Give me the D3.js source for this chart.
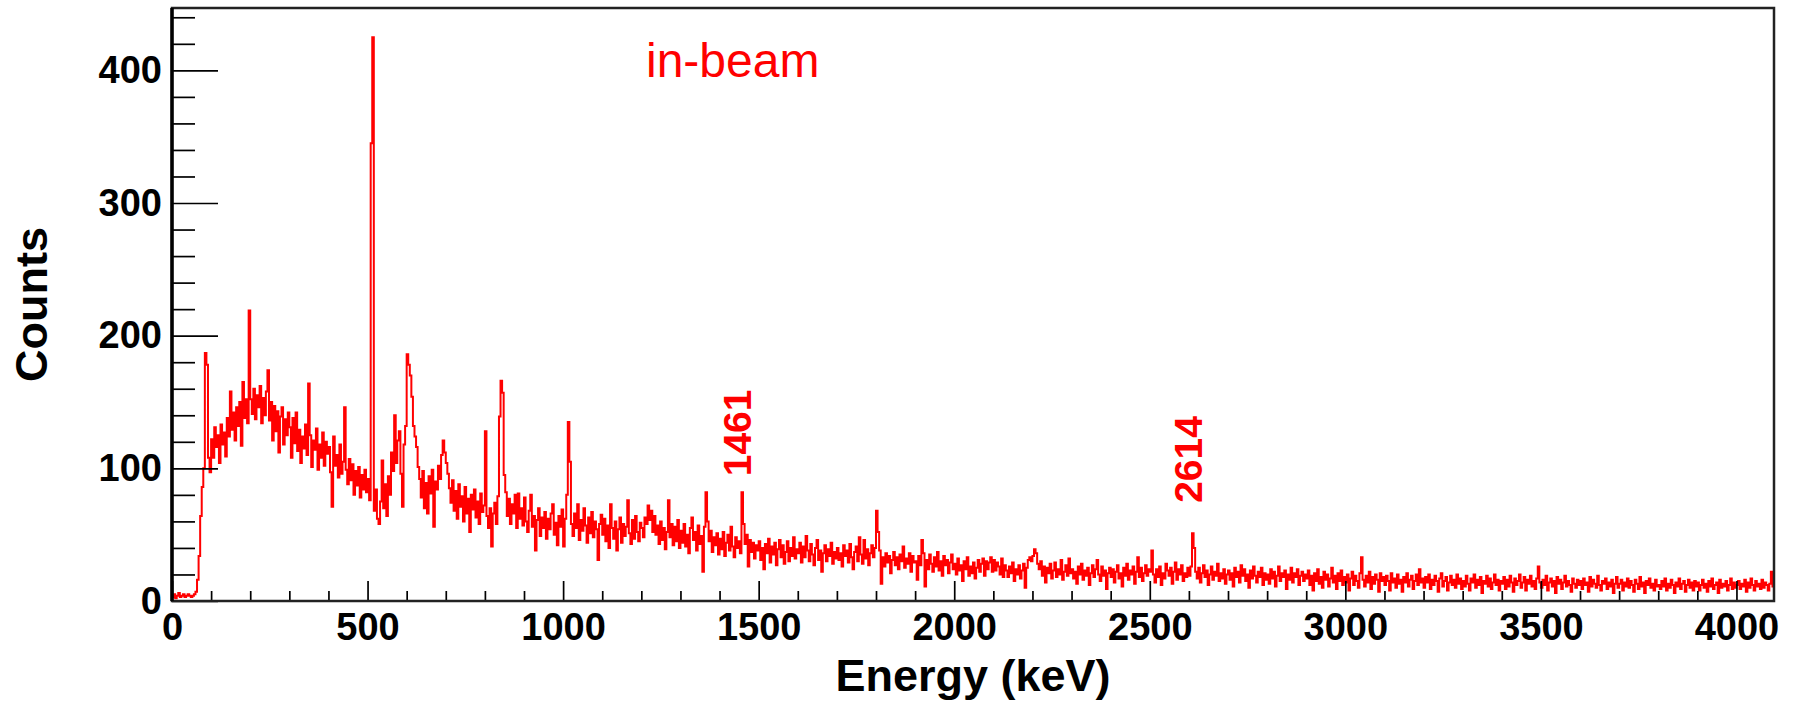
<!DOCTYPE html>
<html>
<head>
<meta charset="utf-8">
<script src="https://cdn.jsdelivr.net/npm/d3@7"></script>
<style>
  body { margin: 0; background: #fff; }
  text { font-family: "Liberation Sans", Arial, Helvetica, sans-serif; }
</style>
</head>
<body>
<svg id="chart" width="1794" height="704"></svg>
<script>
// Gamma spectrum, 4 keV per bin, one row = 100 keV
const binWidth = 4;
const counts = [
  3,5,2,4,6,3,4,5,3,4,5,4,3,4,5,7,16,34,64,86,100,187,178,108,97,            // 0
  122,108,131,116,125,104,133,118,127,109,138,124,158,129,142,121,146,132,150,117,165,138,152,134,219, // 100
  152,141,160,137,155,146,162,134,153,140,158,174,136,150,121,147,128,143,112,139,146,118,137,125,142, // 200
  131,108,138,119,142,113,129,104,124,115,133,110,164,125,101,121,114,130,99,118,108,127,102,120,111,  // 300
  116,97,71,124,102,110,93,118,96,105,146,99,88,107,91,103,80,98,87,101,78,95,84,99,82,               // 400
  92,76,345,425,68,84,62,58,75,106,70,88,64,94,80,112,98,140,104,121,128,96,71,118,132,               // 500
  186,178,170,154,132,124,116,101,92,78,98,70,89,66,94,81,99,56,90,84,102,92,110,121,112,             // 600
  104,96,85,74,91,68,83,62,88,71,79,60,86,66,77,52,80,69,84,63,75,58,81,67,72,                        // 700
  128,64,55,70,41,66,74,58,79,139,166,157,95,82,64,77,58,73,66,80,55,81,62,70,57,                     // 800
  78,60,52,68,80,56,64,38,61,70,49,63,55,67,47,62,54,66,73,50,59,42,64,56,69,                         // 900
  41,62,80,135,105,58,49,66,55,73,46,61,53,70,57,44,63,51,67,48,60,54,31,58,65,                       // 1000
  50,62,45,57,40,73,55,47,60,38,54,63,44,58,49,56,76,51,43,61,47,64,52,45,59,                         // 1100
  55,48,63,58,72,61,68,52,64,50,57,43,60,46,55,39,52,76,48,58,42,56,45,61,40,                         // 1200
  53,44,58,41,50,36,55,63,46,52,38,57,43,49,22,56,82,60,45,53,37,48,42,51,35,                         // 1300
  47,39,52,34,44,50,38,56,41,33,48,40,45,36,82,58,43,50,26,46,37,44,32,42,38,                         // 1400
  45,31,40,24,43,36,47,29,41,35,44,27,39,46,33,42,28,37,45,30,40,34,48,32,39,                         // 1500
  36,44,29,41,33,49,38,30,43,35,27,40,46,31,38,22,36,42,30,39,34,44,28,37,32,                         // 1600
  40,31,36,26,42,34,38,29,43,33,24,37,41,30,48,35,28,46,32,39,27,36,42,33,40,                         // 1700
  68,52,38,13,33,26,36,29,34,21,31,37,27,33,24,35,30,41,25,32,28,36,22,34,29,                         // 1800
  30,16,34,27,46,36,11,31,24,35,28,22,33,26,37,23,30,19,34,27,31,21,29,35,24,                         // 1900
  28,20,32,23,27,15,30,24,33,19,26,21,29,17,25,31,22,28,32,19,30,24,29,33,22,                         // 2000
  31,23,29,26,20,32,18,27,23,18,26,21,29,15,24,20,27,17,23,28,10,25,31,33,30,                         // 2100
  34,39,36,28,24,30,19,26,14,25,21,28,17,23,29,18,24,20,31,16,22,27,19,32,21,                         // 2200
  24,17,22,13,26,20,28,16,23,19,25,12,21,27,18,24,31,20,15,26,19,23,9,21,25,                          // 2300
  18,24,14,22,27,17,21,11,25,19,28,16,23,20,26,13,22,33,18,25,15,21,27,19,24,                         // 2400
  22,38,20,14,24,18,26,12,21,17,28,23,19,25,13,22,29,16,24,20,27,15,21,18,25,                         // 2500
  19,26,51,40,22,17,25,14,21,27,18,23,12,20,26,16,22,19,28,15,21,17,24,13,20,                         // 2600
  23,16,21,11,25,18,22,14,27,19,24,15,20,10,23,17,26,19,14,22,18,25,12,21,16,                         // 2700
  20,13,24,17,22,11,19,26,15,21,18,23,9,20,16,25,14,21,18,24,12,19,22,15,20,                          // 2800
  17,23,12,19,8,21,15,24,13,18,10,22,16,20,11,17,25,14,19,9,21,15,23,12,18,                           // 2900
  14,20,8,17,22,12,19,15,10,21,33,16,11,19,14,22,9,18,13,20,16,7,21,15,18,                            // 3000
  12,19,15,8,21,14,17,10,20,13,16,7,18,14,21,11,16,19,9,15,20,12,24,14,17,                            // 3100
  10,18,14,20,9,16,12,19,15,7,17,21,11,15,18,8,14,19,12,16,10,20,13,17,9,                             // 3200
  15,11,19,13,8,17,14,20,10,16,12,18,6,15,13,19,11,17,9,14,20,12,16,8,15,                             // 3300
  13,18,9,16,11,19,14,7,17,12,15,20,10,14,18,8,16,13,19,11,15,9,17,26,14,                             // 3400
  10,16,12,19,8,14,17,11,15,6,18,13,16,9,14,19,11,15,12,7,17,13,10,16,12,                             // 3500
  15,9,17,12,14,7,18,11,16,13,10,19,12,8,15,13,17,9,14,11,16,6,13,18,10,                              // 3600
  13,16,8,14,11,17,10,15,12,7,16,13,9,18,11,14,6,15,12,17,10,13,8,16,11,                              // 3700
  12,9,15,11,17,8,13,10,16,12,6,14,11,17,9,13,15,7,12,16,10,14,8,15,11,                               // 3800
  14,8,12,16,10,13,7,15,11,17,9,12,14,6,16,10,13,11,15,8,12,17,9,14,10,                               // 3900
  12,15,9,13,11,16,7,14,10,17,12,8,15,11,13,9,16,10,14,12,8,13,22,11                                  // 4000
];

const xMax = 4096;
const yMax = 447;
const xMajorTicks = [0, 500, 1000, 1500, 2000, 2500, 3000, 3500, 4000];
const yMajorTicks = [0, 100, 200, 300, 400];
const peakNames = ['1461', '2614'];
const peakEnergies = [1461, 2614];
const peakLabelCounts = [94, 74];

const margin = { top: 8, right: 20, bottom: 103, left: 172 };
const width = 1794 - margin.left - margin.right;
const height = 704 - margin.top - margin.bottom;

const svg = d3.select('#chart');
const g = svg.append('g').attr('transform', `translate(${margin.left},${margin.top})`);

const x = d3.scaleLinear().domain([0, xMax]).range([0, width]);
const y = d3.scaleLinear().domain([0, yMax]).range([height, 0]);

// histogram as a step line
const points = counts.map((c, i) => [i * binWidth, c]);
points.push([xMax, counts[counts.length - 1]]);

svg.append('defs').append('clipPath').attr('id', 'plotClip')
  .append('rect').attr('width', width).attr('height', height);

g.append('path')
  .datum(points)
  .attr('clip-path', 'url(#plotClip)')
  .attr('fill', 'none')
  .attr('stroke', '#ff0000')
  .attr('stroke-width', 2)
  .attr('d', d3.line().x(d => x(d[0])).y(d => y(d[1])).curve(d3.curveStepAfter));

// axes, ticks pointing inward
const xMinor = d3.range(0, xMax + 1, 100).filter(v => v % 500 !== 0);
const yMinor = d3.range(0, yMax, 20).filter(v => v % 100 !== 0);

g.append('g').attr('transform', `translate(0,${height})`)
  .call(d3.axisBottom(x).tickValues(xMajorTicks).tickSize(-20).tickPadding(12).tickFormat(d3.format('d')));
g.append('g').attr('transform', `translate(0,${height})`)
  .call(d3.axisBottom(x).tickValues(xMinor).tickSize(-10).tickFormat(''));

g.append('g')
  .call(d3.axisLeft(y).tickValues(yMajorTicks).tickSize(-46).tickPadding(10).tickFormat(d3.format('d')));
g.append('g')
  .call(d3.axisLeft(y).tickValues(yMinor).tickSize(-23).tickFormat(''));

g.selectAll('.domain').remove();
g.selectAll('.tick line').attr('stroke', '#000').attr('stroke-width', 1.7);
g.selectAll('.tick text')
  .attr('fill', '#000')
  .style('font-size', '38px')
  .style('font-weight', 'bold');

// frame
g.append('rect')
  .attr('width', width).attr('height', height)
  .attr('fill', 'none').attr('stroke', '#222').attr('stroke-width', 2.5);
g.append('line')
  .attr('x1', 0).attr('x2', 0).attr('y1', 0).attr('y2', height)
  .attr('stroke', '#000').attr('stroke-width', 3.5);

// axis titles
svg.append('text')
  .attr('x', margin.left + width / 2)
  .attr('y', 691)
  .attr('text-anchor', 'middle')
  .style('font-size', '45px').style('font-weight', 'bold')
  .text('Energy (keV)');

svg.append('text')
  .attr('transform', `translate(47,${margin.top + height / 2}) rotate(-90)`)
  .attr('text-anchor', 'middle')
  .style('font-size', '45px').style('font-weight', 'bold')
  .text('Counts');

// annotations
svg.append('text')
  .attr('x', 646).attr('y', 77)
  .attr('fill', '#ff0000')
  .style('font-size', '48px')
  .text('in-beam');

peakNames.forEach((name, i) => {
  g.append('text')
    .attr('transform', `translate(${x(peakEnergies[i]) + 8},${y(peakLabelCounts[i])}) rotate(-90)`)
    .attr('fill', '#ff0000')
    .style('font-size', '39px').style('font-weight', 'bold')
    .text(name);
});
</script>
</body>
</html>
